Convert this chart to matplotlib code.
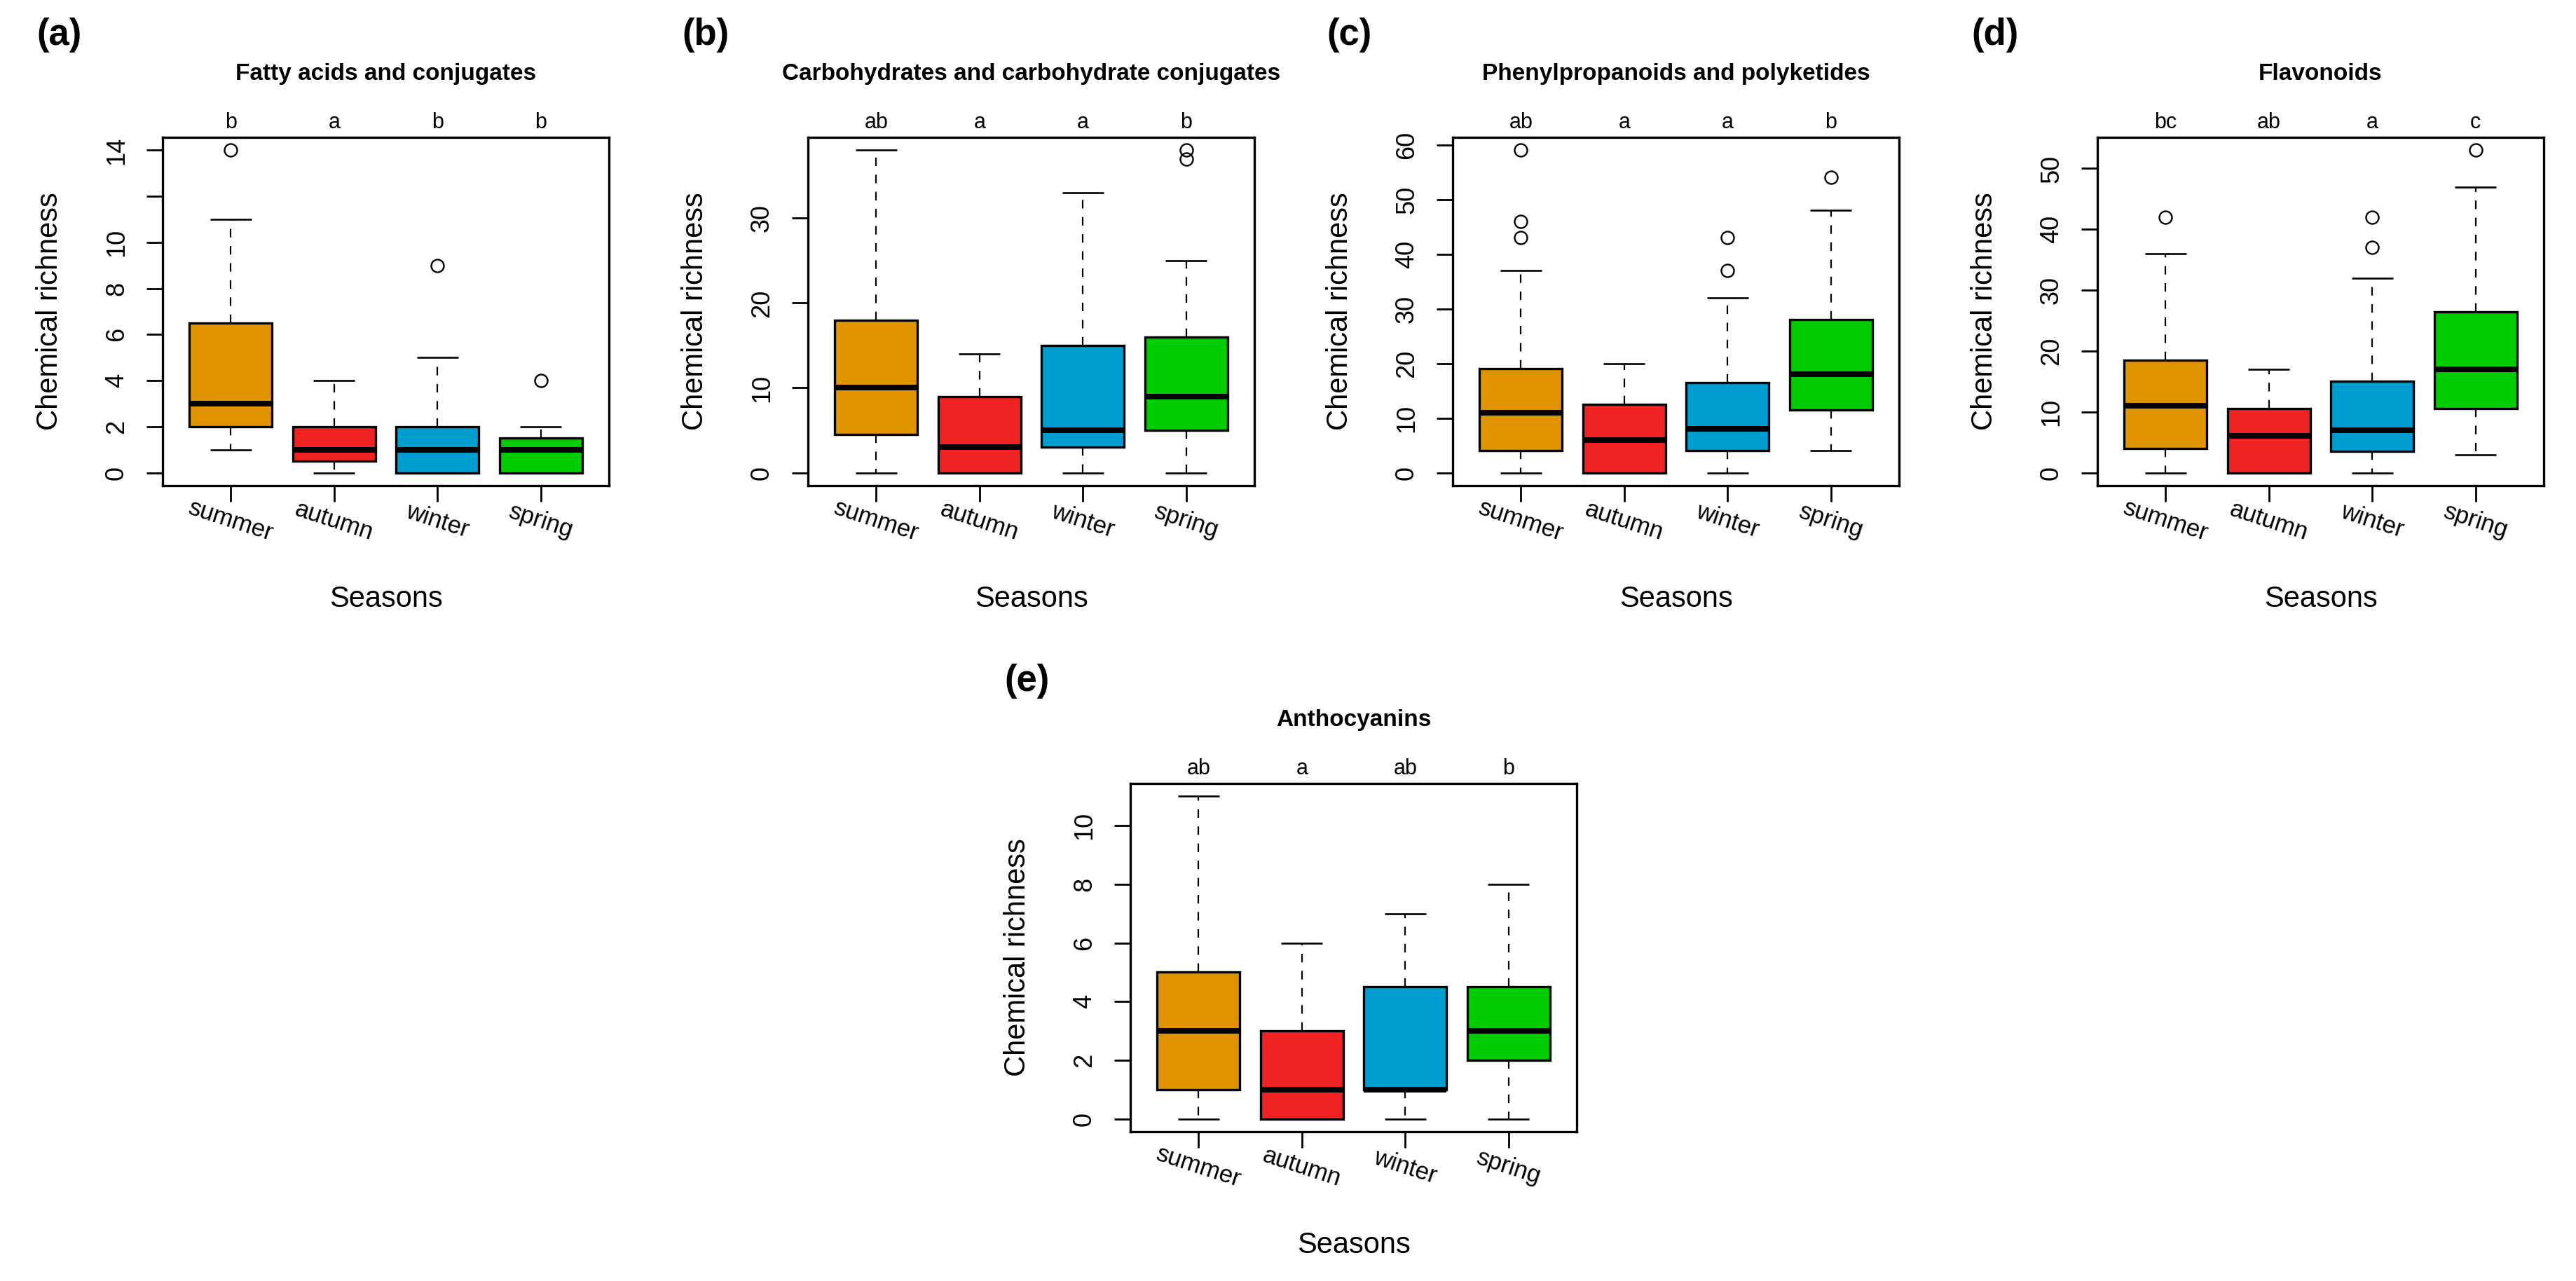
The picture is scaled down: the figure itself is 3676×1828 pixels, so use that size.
import matplotlib
matplotlib.use("Agg")  # sem display

import matplotlib.pyplot as plt
import matplotlib.transforms as mtransforms

plt.rcParams['font.family'] = ['Liberation Sans', 'DejaVu Sans']

# --- dados ---
seasons = ["summer", "autumn", "winter", "spring"]
season_colors = ["#E09400", "#F02222", "#009ED0", "#00CC00"]

# (a) Fatty acids and conjugates
fatty_low = [1, 0, 0, 0]
fatty_q1 = [2, 0.5, 0, 0]
fatty_med = [3, 1, 1, 1]
fatty_q3 = [6.5, 2, 2, 1.5]
fatty_high = [11, 4, 5, 2]
fatty_out = [[14], [], [9], [4]]
fatty_letters = ["b", "a", "b", "b"]
fatty_ticks = [0, 2, 4, 6, 8, 10, 12, 14]
fatty_ticklabels = ["0", "2", "4", "6", "8", "10", "", "14"]

# (b) Carbohydrates and carbohydrate conjugates
carb_low = [0, 0, 0, 0]
carb_q1 = [4.5, 0, 3, 5]
carb_med = [10, 3, 5, 9]
carb_q3 = [18, 9, 15, 16]
carb_high = [38, 14, 33, 25]
carb_out = [[], [], [], [38, 37]]
carb_letters = ["ab", "a", "a", "b"]
carb_ticks = [0, 10, 20, 30]

# (c) Phenylpropanoids and polyketides
phen_low = [0, 0, 0, 4]
phen_q1 = [4, 0, 4, 11.5]
phen_med = [11, 6, 8, 18]
phen_q3 = [19, 12.5, 16.5, 28]
phen_high = [37, 20, 32, 48]
phen_out = [[59, 46, 43], [], [43, 37], [54]]
phen_letters = ["ab", "a", "a", "b"]
phen_ticks = [0, 10, 20, 30, 40, 50, 60]

# (d) Flavonoids
flav_low = [0, 0, 0, 3]
flav_q1 = [4, 0, 3.5, 10.5]
flav_med = [11, 6, 7, 17]
flav_q3 = [18.5, 10.5, 15, 26.5]
flav_high = [36, 17, 32, 47]
flav_out = [[42], [], [42, 37], [53]]
flav_letters = ["bc", "ab", "a", "c"]
flav_ticks = [0, 10, 20, 30, 40, 50]

# (e) Anthocyanins
anth_low = [0, 0, 0, 0]
anth_q1 = [1, 0, 1, 2]
anth_med = [3, 1, 1, 3]
anth_q3 = [5, 3, 4.5, 4.5]
anth_high = [11, 6, 7, 8]
anth_out = [[], [], [], []]
anth_letters = ["ab", "a", "ab", "b"]
anth_ticks = [0, 2, 4, 6, 8, 10]

paineis = [
    ("(a)", "Fatty acids and conjugates", fatty_low, fatty_q1, fatty_med, fatty_q3,
     fatty_high, fatty_out, fatty_letters, fatty_ticks, fatty_ticklabels),
    ("(b)", "Carbohydrates and carbohydrate conjugates", carb_low, carb_q1, carb_med, carb_q3,
     carb_high, carb_out, carb_letters, carb_ticks, None),
    ("(c)", "Phenylpropanoids and polyketides", phen_low, phen_q1, phen_med, phen_q3,
     phen_high, phen_out, phen_letters, phen_ticks, None),
    ("(d)", "Flavonoids", flav_low, flav_q1, flav_med, flav_q3,
     flav_high, flav_out, flav_letters, flav_ticks, None),
    ("(e)", "Anthocyanins", anth_low, anth_q1, anth_med, anth_q3,
     anth_high, anth_out, anth_letters, anth_ticks, None),
]

# posicoes das caixas em pixels (esquerda, topo)
W, H = 3676, 1828
box_w, box_h = 637, 497
cantos = [(232, 196), (1153, 196), (2073, 196), (2993, 196), (1613, 1118)]

fig = plt.figure(figsize=(W / 100, H / 100), dpi=100)
fig.patch.set_facecolor("white")

for (tag, titulo, low, q1, med, q3, high, out, letras, ticks, ticklabels), (px, py) in zip(paineis, cantos):
    ax = fig.add_axes([px / W, 1 - (py + box_h) / H, box_w / W, box_h / H])

    stats = []
    for i in range(4):
        stats.append(dict(med=med[i], q1=q1[i], q3=q3[i], whislo=low[i], whishi=high[i],
                          fliers=out[i], label=seasons[i]))

    bp = ax.bxp(stats, positions=[1, 2, 3, 4], widths=0.8, capwidths=0.4, patch_artist=True,
                boxprops=dict(linewidth=2.4, edgecolor="black", joinstyle="miter"),
                medianprops=dict(color="black", linewidth=5.8, solid_capstyle="butt"),
                whiskerprops=dict(color="black", linewidth=1.6, linestyle=(0, (5.5, 5.5))),
                capprops=dict(color="black", linewidth=1.9, solid_capstyle="butt"),
                flierprops=dict(marker="o", markerfacecolor="none", markeredgecolor="black",
                                markersize=13, markeredgewidth=1.7))
    for patch, cor in zip(bp["boxes"], season_colors):
        patch.set_facecolor(cor)

    vals_min = min(low + q1)
    vals_max = max(high + [v for o in out for v in o])
    pad = 0.04 * (vals_max - vals_min)
    ax.set_ylim(vals_min - pad, vals_max + pad)
    ax.set_xlim(0.34, 4.66)

    ax.set_yticks(ticks)
    if ticklabels is None:
        ticklabels = [str(t) for t in ticks]
    ax.set_yticklabels(ticklabels, rotation=90, va="center", ha="right", fontsize=26)
    ax.set_xticks([1, 2, 3, 4])
    ax.set_xticklabels(seasons, rotation=-18, ha="center", va="center", fontsize=25)
    ax.tick_params(axis="y", length=16.5, width=2, pad=18)
    ax.tick_params(axis="x", length=16.5, width=2, pad=20)
    for s in ax.spines.values():
        s.set_linewidth(2.4)

    # letras de significancia
    trans = mtransforms.blended_transform_factory(ax.transData, ax.transAxes)
    for i, letra in enumerate(letras):
        ax.text(i + 1, 1.026, letra, transform=trans, ha="center", va="baseline", fontsize=22)

    ax.text(0.5, 1.165, titulo, transform=ax.transAxes, ha="center", va="baseline",
            fontsize=24, fontweight="bold")
    ax.text(-0.253, 0.5, "Chemical richness", transform=ax.transAxes, rotation=90,
            ha="center", va="center", fontsize=30)
    ax.text(0.5, -0.326, "Seasons", transform=ax.transAxes, ha="center", va="center", fontsize=30)

    fig.text((px - 180) / W, 1 - (py - 132) / H, tag, ha="left", va="baseline",
             fontsize=38, fontweight="bold")

fig.savefig("out.png", dpi=100, facecolor="white")
